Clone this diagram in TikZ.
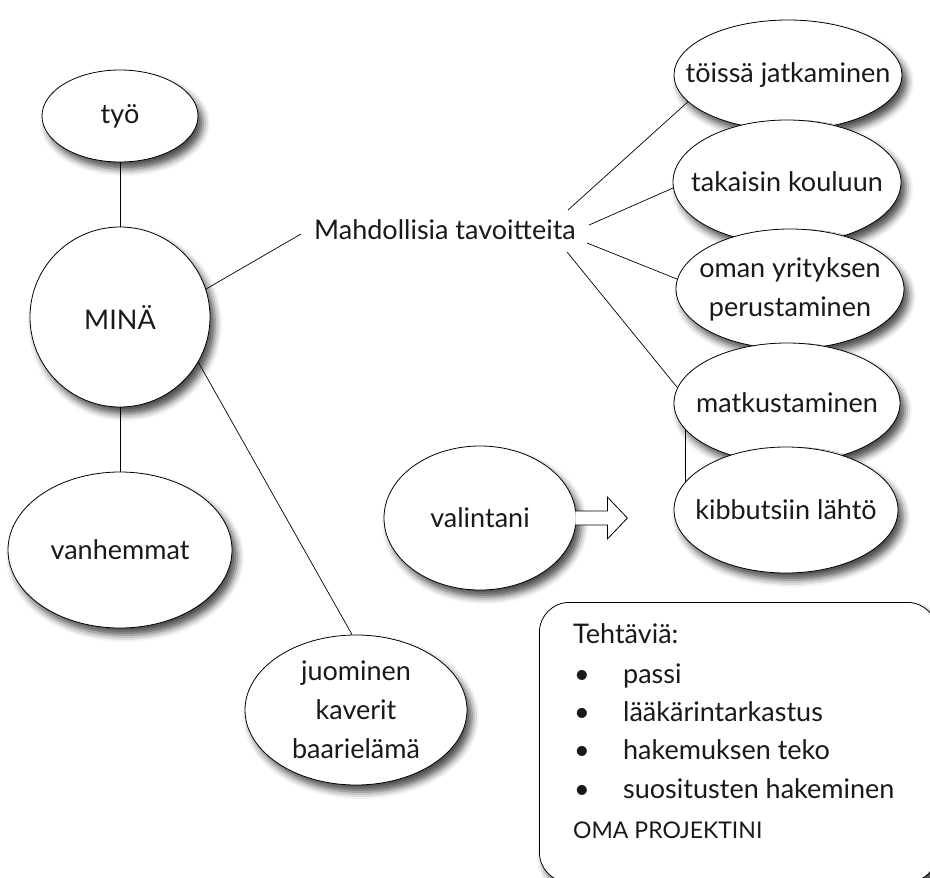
\documentclass[tikz,border=0pt]{standalone}
\usepackage{fontspec}
\setmainfont{Lato}
\usetikzlibrary{shapes.geometric,shadows.blur}

\begin{document}
\begin{tikzpicture}[x=1pt, y=-1pt,
  txt/.style={font=\fontsize{27}{39}\selectfont, text=black!90},
  every label/.style={txt, align=center, inner sep=0pt},
  softshadow/.style={blur shadow={shadow xshift=5pt, shadow yshift=-7pt,
      shadow blur radius=7pt, shadow opacity=70}},
  bubble/.style={ellipse, draw=black, line width=0.8pt, fill=white,
      inner sep=0pt, softshadow},
  link/.style={draw=black, line width=0.7pt},
  taskbox/.style={rectangle, draw=black, line width=0.8pt, fill=white,
      rounded corners=30pt, softshadow, inner sep=0pt},
  taskline/.style={txt, anchor=base west, inner sep=0pt}]

\useasboundingbox (0,0) rectangle (930,878);
\clip (0,0) rectangle (930,878);

% left branch: me, work, parents, free time
\node[bubble, minimum width=156, minimum height=92, label=center:työ] (tyo) at (120,116) {};
\node[bubble, minimum width=180, minimum height=180, label=center:MINÄ] (mina) at (120,317) {};
\node[bubble, minimum width=224, minimum height=156, label=center:vanhemmat] (vanh) at (120,550) {};
\node[bubble, minimum width=222, minimum height=150,
      label={center:juominen\\kaverit\\baarielämä}] (juom) at (356,710) {};

% the goals heading
\node[txt, inner xsep=13pt, inner ysep=4pt] (goals) at (445,230) {Mahdollisia tavoitteita};

% connectors, drawn before the goal bubbles so those cover their ends
\draw[link] (tyo) -- (mina);
\draw[link] (mina) -- (vanh);
\draw[link] (mina.-30) -- (juom.93);
\draw[link] (mina.18) -- ([shift={(0,4)}]goals.west);

% goal bubbles, each one laid over the previous
\coordinate (cT) at (788,75);
\coordinate (cK) at (787,182);
\coordinate (cO) at (790,289);
\coordinate (cM) at (787,403);
\coordinate (cB) at (786,510);

\draw[link] ([xshift=-102pt]cM) -- ([xshift=-101pt]cB);

\node[bubble, minimum width=228, minimum height=110, label=center:töissä jatkaminen] (toissa) at (cT) {};
\node[bubble, minimum width=228, minimum height=124, label=center:takaisin kouluun] (koulu) at (cK) {};
\node[bubble, minimum width=228, minimum height=120,
      label={center:oman yrityksen\\perustaminen}] (yritys) at (cO) {};
\node[bubble, minimum width=226, minimum height=120, label=center:matkustaminen] (matka) at (cM) {};
\node[bubble, minimum width=224, minimum height=126, label=center:kibbutsiin lähtö] (kibb) at (cB) {};

% goals fanning out to the bubbles
\draw[link] ([shift={(-21,-20)}]goals.east) -- (toissa.195);
\draw[link] ([shift={(0,-5)}]goals.east) -- (koulu.183);
\draw[link] ([shift={(-2,13)}]goals.east) -- (yritys.175);
\draw[link] ([shift={(-22,22)}]goals.east) -- (matka.172);

% the choice
\node[bubble, minimum width=192, minimum height=144, label=center:valintani] (valinta) at (480,518) {};
\draw[line width=0.8pt, fill=white, line join=miter]
  ([shift={(-1,-7)}]valinta.east) -- ++(32,0) -- ++(0,-14) -- ++(20,21)
  -- ++(-20,21) -- ++(0,-14) -- ++(-32,0);

% task list
\node[taskbox, minimum width=398, minimum height=280, anchor=north west] (tasks) at (539,602) {};
\node[taskline] (t0) at (573,643) {Tehtäviä:};
\node[taskline] (t1) at (573,683) {\makebox[50pt][l]{\hspace{1pt}\textbullet}passi};
\node[taskline] (t2) at (573,721) {\makebox[50pt][l]{\hspace{1pt}\textbullet}lääkärintarkastus};
\node[taskline] (t3) at (573,759) {\makebox[50pt][l]{\hspace{1pt}\textbullet}hakemuksen teko};
\node[taskline] (t4) at (573,798) {\makebox[50pt][l]{\hspace{1pt}\textbullet}suositusten hakeminen};
\node[taskline, font=\fontsize{23}{30}\selectfont] (t5) at (573,838) {OMA PROJEKTINI};
\end{tikzpicture}
\end{document}
